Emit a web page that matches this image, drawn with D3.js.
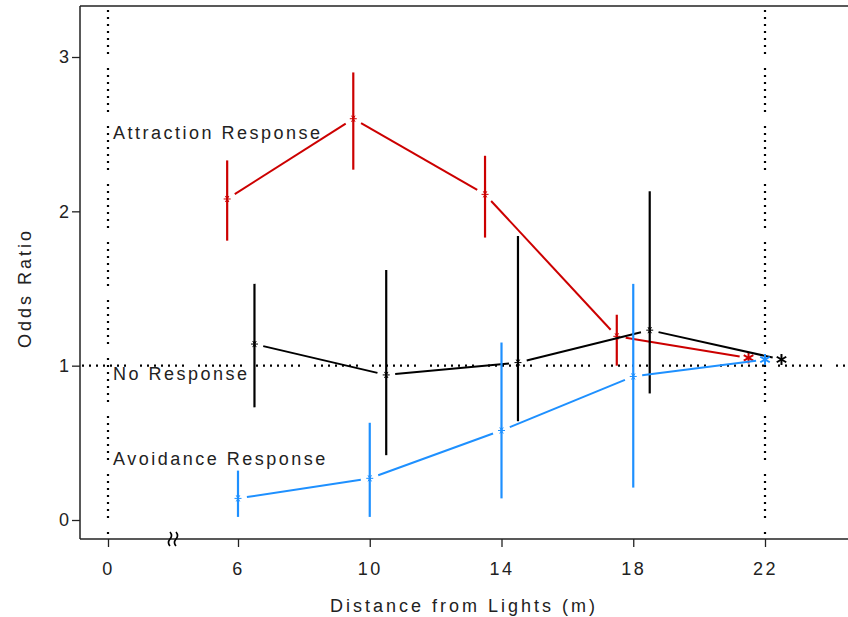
<!DOCTYPE html>
<html>
<head>
<meta charset="utf-8">
<script src="https://cdn.jsdelivr.net/npm/d3@7/dist/d3.min.js"></script>
<style>
  html, body { margin: 0; padding: 0; background: #fff; }
  svg { display: block; }
  text { font-family: "Liberation Sans", Arial, sans-serif; fill: #222; }
</style>
</head>
<body>
<svg id="chart" width="848" height="617"></svg>
<script>
// ---- data ----
const seriesNames = ["Attraction Response", "No Response", "Avoidance Response"];
const seriesColors = ["#cc0000", "#000000", "#1e90ff"];

const attrX  = [5.5, 9.5, 13.5, 17.5, 21.5];
const attrY  = [2.08, 2.60, 2.11, 1.19, 1.05];
const attrLo = [1.81, 2.27, 1.83, 1.00];
const attrHi = [2.33, 2.90, 2.36, 1.33];

const noX  = [6.5, 10.5, 14.5, 18.5, 22.5];
const noY  = [1.14, 0.94, 1.02, 1.23, 1.04];
const noLo = [0.73, 0.42, 0.64, 0.82];
const noHi = [1.53, 1.62, 1.84, 2.13];

const avX  = [6, 10, 14, 18, 22];
const avY  = [0.14, 0.27, 0.58, 0.93, 1.04];
const avLo = [0.02, 0.02, 0.14, 0.21];
const avHi = [0.32, 0.63, 1.15, 1.53];

const xTicks = [0, 6, 10, 14, 18, 22];
const yTicks = [0, 1, 2, 3];
const labelY = [2.51, 0.95, 0.395];
const refX = [0, 22];
const refY = 1;
const breakAt = 3;

// ---- scales ----
const svg = d3.select("#chart");
const mLeft = 80, mTop = 6, mBottom = 539, mRight = 848;
const x = d3.scaleLinear().domain([0, 6, 22]).range([108, 238, 765]);
const y = d3.scaleLinear().domain([0, 3]).range([520, 57]);

const dotPattern = "2,5,2,5,2,5,2,5,2,5,2,5,2,14";

// ---- reference dotted lines ----
refX.forEach(v => {
  svg.append("line")
    .attr("x1", x(v)).attr("x2", x(v))
    .attr("y1", mTop + 4).attr("y2", mBottom - 2)
    .attr("stroke", "#000").attr("stroke-width", 2.2)
    .attr("stroke-dasharray", dotPattern);
});
svg.append("line")
  .attr("x1", mLeft + 2).attr("x2", mRight)
  .attr("y1", y(refY)).attr("y2", y(refY))
  .attr("stroke", "#000").attr("stroke-width", 2.2)
  .attr("stroke-dasharray", dotPattern);

// ---- frame / axes ----
const axisG = svg.append("g");
axisG.append("line").attr("x1", mLeft).attr("x2", mRight).attr("y1", mTop).attr("y2", mTop)
  .attr("stroke", "#222").attr("stroke-width", 1.5);
axisG.append("line").attr("x1", mLeft).attr("x2", mRight).attr("y1", mBottom).attr("y2", mBottom)
  .attr("stroke", "#222").attr("stroke-width", 1.5);
axisG.append("line").attr("x1", mLeft).attr("x2", mLeft).attr("y1", mTop).attr("y2", mBottom)
  .attr("stroke", "#222").attr("stroke-width", 1.5);

const yAxis = d3.axisLeft(y).tickValues(yTicks).tickSize(8).tickPadding(3).tickFormat(d3.format("d"));
const gy = svg.append("g").attr("transform", `translate(${mLeft},0)`).call(yAxis);
gy.select(".domain").remove();
gy.selectAll(".tick line").attr("stroke", "#222").attr("stroke-width", 1.3);
gy.selectAll(".tick text").style("font-size", "18px").style("font-family", "Liberation Sans, Arial, sans-serif").attr("fill", "#222");

const xAxis = d3.axisBottom(x).tickValues(xTicks).tickSize(8).tickPadding(15).tickFormat(d3.format("d"));
const gx = svg.append("g").attr("transform", `translate(0,${mBottom})`).call(xAxis);
gx.select(".domain").remove();
gx.selectAll(".tick line").attr("stroke", "#222").attr("stroke-width", 1.3);
gx.selectAll(".tick text").style("font-size", "18px").style("letter-spacing", "2.5px")
  .style("font-family", "Liberation Sans, Arial, sans-serif").attr("fill", "#222");

// axis break symbol
const bx = x(breakAt);
[-3, 3].forEach(o => {
  svg.append("path")
    .attr("d", `M${bx + o},${mBottom - 7} q3,3.5 0,7 q-3,3.5 0,7`)
    .attr("fill", "none").attr("stroke", "#000").attr("stroke-width", 1.6);
});

// titles
svg.append("text")
  .attr("x", 464).attr("y", 612)
  .attr("text-anchor", "middle")
  .style("font-size", "18px").style("letter-spacing", "3px")
  .text("Distance from Lights (m)");
svg.append("text")
  .attr("transform", "translate(31,288) rotate(-90)")
  .attr("text-anchor", "middle")
  .style("font-size", "18px").style("letter-spacing", "3px")
  .text("Odds Ratio");

// series labels
seriesNames.forEach((n, i) => {
  svg.append("text")
    .attr("x", x(0) + 5).attr("y", y(labelY[i]))
    .attr("dy", "0.35em")
    .style("font-size", "18px").style("letter-spacing", "2.5px")
    .text(n);
});

// ---- series ----
const series = [
  {xs: attrX, ys: attrY, lo: attrLo, hi: attrHi, color: seriesColors[0]},
  {xs: noX,   ys: noY,   lo: noLo,   hi: noHi,   color: seriesColors[1]},
  {xs: avX,   ys: avY,   lo: avLo,   hi: avHi,   color: seriesColors[2]}
];

function asterisk(g, cx, cy, r, color, sw, arms) {
  arms.forEach(a => {
    const rad = a * Math.PI / 180;
    const dx = r * Math.cos(rad), dy = r * Math.sin(rad);
    g.append("line")
      .attr("x1", cx - dx).attr("y1", cy - dy)
      .attr("x2", cx + dx).attr("y2", cy + dy)
      .attr("stroke", color).attr("stroke-width", sw);
  });
}

const gap = 9;
series.forEach(s => {
  const g = svg.append("g");
  const pts = s.xs.map((v, i) => [x(v), y(s.ys[i])]);
  for (let i = 0; i < pts.length - 1; i++) {
    const [x1, y1] = pts[i], [x2, y2] = pts[i + 1];
    const len = Math.hypot(x2 - x1, y2 - y1);
    const ux = (x2 - x1) / len, uy = (y2 - y1) / len;
    g.append("line")
      .attr("x1", x1 + ux * gap).attr("y1", y1 + uy * gap)
      .attr("x2", x2 - ux * gap).attr("y2", y2 - uy * gap)
      .attr("stroke", s.color).attr("stroke-width", 2);
  }
  s.lo.forEach((lo, i) => {
    g.append("line")
      .attr("x1", x(s.xs[i])).attr("x2", x(s.xs[i]))
      .attr("y1", y(s.hi[i])).attr("y2", y(lo))
      .attr("stroke", s.color).attr("stroke-width", 2.2);
  });
  pts.forEach((p, i) => {
    if (i < s.lo.length) {
      asterisk(g, p[0], p[1], 3.5, s.color, 1, [0, 60, 120]);
    } else {
      asterisk(g, p[0], p[1], 5.5, s.color, 2, [90, 30, 150]);
    }
  });
});
</script>
</body>
</html>
